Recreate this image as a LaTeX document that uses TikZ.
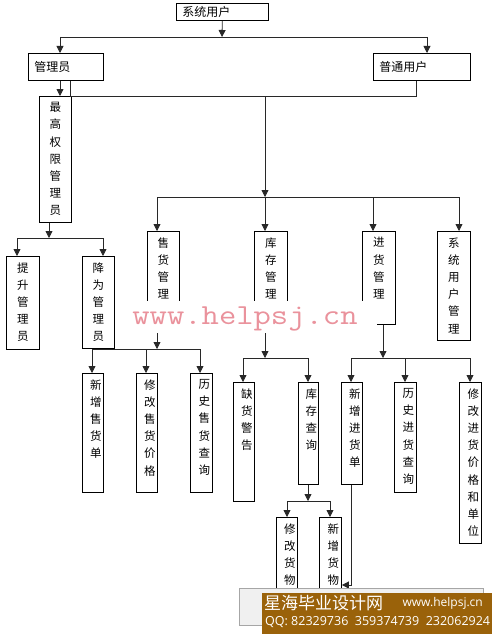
\documentclass[tikz,border=0pt]{standalone}
\usepackage{fontspec}
\usepackage{graphicx}
\setmainfont{Liberation Sans}
\newfontfamily\cjk{Noto Sans CJK SC}
\newfontfamily\bannerfont{Open Sans}
\usetikzlibrary{arrows.meta}
\definecolor{wmred}{RGB}{234,146,156}
\definecolor{bannerbrown}{RGB}{154,98,10}
\definecolor{linegray}{RGB}{40,40,40}

% vertical text cell: width, height, characters (optional right shift)
\newcommand{\colcell}[4][0]{\parbox[c][#3pt][t]{#2pt}{\centering\leftskip=#1pt plus 1fil\vspace{6pt}#4}}

\begin{document}
\begin{tikzpicture}[x=1pt, y=-1pt, >={Triangle[length=7pt,width=7pt]},
  box/.style={draw, line width=0.9pt, anchor=north west, inner sep=0pt,
    font=\cjk\fontsize{11.5}{17.2}\selectfont},
  hbox/.style={draw, line width=0.9pt, anchor=north west, inner xsep=6pt, inner ysep=0pt,
    align=left, font=\cjk\fontsize{12}{14}\selectfont},
  link/.style={line width=0.8pt, draw=linegray},
  bannertext/.style={inner sep=0pt, text=white}]
  \useasboundingbox (0,0) rectangle (492,634);

  % top levels
  \node[hbox, text width=80, minimum height=17] (root) at (176,3) {系统用户};
  \node[hbox, text width=63, minimum height=27] (admin) at (28,53) {管理员};
  \node[hbox, text width=85, minimum height=27] (user) at (373,53) {普通用户};
  \node[box] (top) at (39,96) {\colcell{32}{126}{最\\高\\权\\限\\管\\理\\员}};
  \node[box] (promote) at (6,256) {\colcell{33}{93}{提\\升\\管\\理\\员}};
  \node[box] (demote) at (82,256) {\colcell{32}{92}{降\\为\\管\\理\\员}};

  % four modules
  \node[box] (sale) at (147,231) {\colcell{32}{93}{售\\货\\管\\理}};
  \node[box] (stock) at (254,231) {\colcell{33}{93}{库\\存\\管\\理}};
  \node[box] (buy) at (362,231) {\colcell{33}{93}{进\\货\\管\\理}};
  \node[box] (sysuser) at (437,231) {\colcell{33}{109}{系\\统\\用\\户\\管\\理}};

  % leaves
  \node[box] (newsale) at (82,373) {\colcell[6]{21}{119}{新\\增\\售\\货\\单}};
  \node[box] (modsale) at (136,373) {\colcell[6]{21}{119}{修\\改\\售\\货\\价\\格}};
  \node[box] (histsale) at (190,373) {\colcell[6]{22}{119}{历\\史\\售\\货\\查\\询}};
  \node[box] (short) at (233,382) {\colcell[6]{21}{119}{缺\\货\\警\\告}};
  \node[box] (query) at (298,382) {\colcell[6]{20}{102}{库\\存\\查\\询}};
  \node[box] (newbuy) at (341,382) {\colcell[6]{21}{102}{新\\增\\进\\货\\单}};
  \node[box] (histbuy) at (394,382) {\colcell[6]{22}{110}{历\\史\\进\\货\\查\\询}};
  \node[box] (modbuy) at (459,382) {\colcell[6]{22}{161}{修\\改\\进\\货\\价\\格\\和\\单\\位}};
  \node[box] (modgoods) at (276,517) {\colcell[6]{21}{85}{修\\改\\货\\物}};
  \node[box] (newgoods) at (319,517) {\colcell[6]{22}{85}{新\\增\\货\\物}};

  % root to roles
  \coordinate (r1) at (222,37);
  \coordinate (rL) at (60,37);
  \coordinate (rR) at (427,37);
  \draw[link,->] (root) -- (r1);
  \draw[link] (rL) -- (rR);
  \draw[link,->] (rL) -- (rL |- admin.north);
  \draw[link,->] (rR) -- (rR |- user.north);

  % roles to modules
  \draw[link,->] (admin.south -| rL) -- (rL |- top.north);
  \coordinate (m1) at (70,96);
  \coordinate (m2) at (416,96);
  \coordinate (m3) at (265,96);
  \coordinate (f1) at (265,197);
  \draw[link] (m1 |- admin.south) -- (m1) -- (m2) -- (m2 |- user.south);
  \draw[link,->] (m3) -- (f1);
  \draw[link] (157,197) -- (459,197);
  \foreach \n/\x in {sale/157, stock/265, buy/373, sysuser/459}{
    \coordinate (d\n) at (\x,197);
    \draw[link,->] (d\n) -- (d\n |- \n.north);
  }

  % top admin
  \coordinate (t1) at (49,238);
  \draw[link,->] (top.south -| t1) -- (t1);
  \draw[link] (17,238) -- (103,238);
  \foreach \n/\x in {promote/17, demote/103}{
    \coordinate (d\n) at (\x,238);
    \draw[link,->] (d\n) -- (d\n |- \n.north);
  }

  % sales
  \coordinate (s1) at (157,349);
  \draw[link,->] (sale.south -| s1) -- (s1);
  \draw[link] (92,349) -- (200,349);
  \foreach \n/\x in {newsale/92, modsale/146, histsale/200}{
    \coordinate (d\n) at (\x,349);
    \draw[link,->] (d\n) -- (d\n |- \n.north);
  }

  % stock
  \coordinate (k1) at (265,358);
  \draw[link,->] (stock.south -| k1) -- (k1);
  \draw[link] (243,358) -- (308,358);
  \foreach \n/\x in {short/243, query/308}{
    \coordinate (d\n) at (\x,358);
    \draw[link,->] (d\n) -- (d\n |- \n.north);
  }

  % purchase
  \coordinate (b1) at (383,358);
  \draw[link,->] (buy.south -| b1) -- (b1);
  \draw[link] (351,358) -- (470,358);
  \foreach \n/\x in {newbuy/351, histbuy/405, modbuy/470}{
    \coordinate (d\n) at (\x,358);
    \draw[link,->] (d\n) -- (d\n |- \n.north);
  }

  % stock query
  \coordinate (q1) at (308,501);
  \draw[link,->] (query.south -| q1) -- (q1);
  \draw[link] (287,501) -- (330,501);
  \foreach \n/\x in {modgoods/287, newgoods/330}{
    \coordinate (d\n) at (\x,501);
    \draw[link,->] (d\n) -- (d\n |- \n.north);
  }
  \coordinate (n1) at (351,585);
  \draw[link,->] (newbuy.south -| n1) -- (n1) -- (n1 -| newgoods.east);

  % watermark
  \fill[white] (120,301) rectangle (377,333);
  \node[text=wmred, inner sep=0pt, anchor=base, font=\ttfamily\fontsize{29}{29}\selectfont]
    (wm) at (245,324) {\scalebox{1.16}[1]{www.helpsj.cn}};

  % banner
  \draw[gray!70, fill=gray!12] (239,588) rectangle (483,625);
  \fill[bannerbrown] (262,593) rectangle (492,634);
  \node[bannertext, anchor=west, font=\cjk\fontsize{17}{17}\selectfont] (site) at (264,603) {星海毕业设计网};
  \node[bannertext, anchor=east, font=\bannerfont\fontsize{12}{12}\selectfont] (url) at (483,603) {www.helpsj.cn};
  \node[bannertext, anchor=west, font=\bannerfont\fontsize{12.5}{12.5}\selectfont] (qq) at (265,622) {QQ: 82329736\ \ 359374739\ \ 232062924};
\end{tikzpicture}
\end{document}
